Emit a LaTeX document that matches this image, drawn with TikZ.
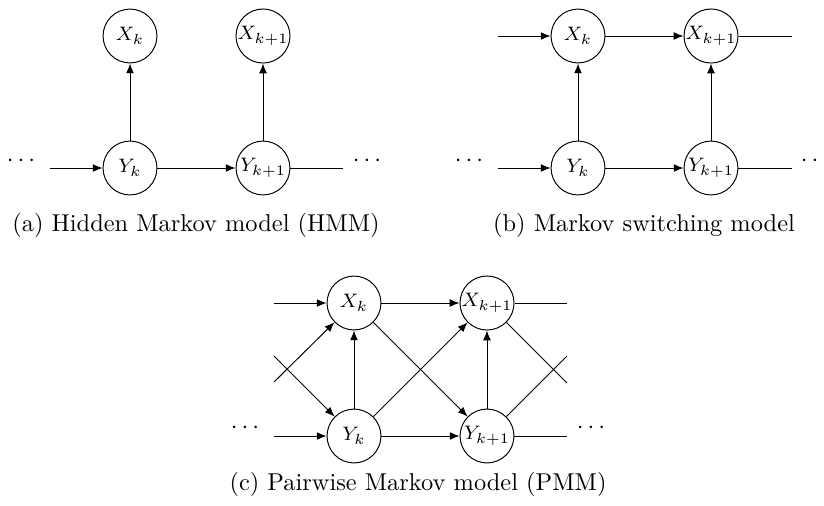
\documentclass[tikz,border=0pt]{standalone}
\usetikzlibrary{arrows.meta}
\begin{document}
\begin{tikzpicture}[x=0.41pt,y=-0.41pt,line width=0.4pt,
  state/.style={circle,draw,minimum size=22.1pt,inner sep=0pt,font=\fontsize{8}{9}\selectfont},
  arr/.style={-{Latex[length=4pt,width=3.2pt]}},
  dotsnode/.style={inner sep=0pt},
  captext/.style={font=\normalsize}]
\useasboundingbox (0,0) rectangle (824,505);

% (a) hidden Markov model
\node[state] (aX1) at (130,36) {$X_k$};
\node[state] (aX2) at (263,36) {$X_{k+1}$};
\node[state] (aY1) at (130,168) {$Y_k$};
\node[state] (aY2) at (263,168) {$Y_{k+1}$};
\coordinate (aIn) at (50,168);
\coordinate (aOut) at (343,168);
\node[dotsnode] (aDL) at (21,161) {$\cdots$};
\node[dotsnode] (aDR) at (367,161) {$\cdots$};
\draw[arr] (aIn) -- (aY1);
\draw[arr] (aY1) -- (aY2);
\draw (aY2) -- (aOut);
\draw[arr] (aY1) -- (aX1);
\draw[arr] (aY2) -- (aX2);
\node[captext] (aCap) at (196,225) {(a) Hidden Markov model (HMM)};

% (b) Markov switching model
\node[state] (bX1) at (578,36) {$X_k$};
\node[state] (bX2) at (711,36) {$X_{k+1}$};
\node[state] (bY1) at (578,168) {$Y_k$};
\node[state] (bY2) at (711,168) {$Y_{k+1}$};
\coordinate (bXIn) at (498,36);
\coordinate (bYIn) at (498,168);
\coordinate (bXOut) at (792,36);
\coordinate (bYOut) at (792,168);
\node[dotsnode] (bDL) at (469,161) {$\cdots$};
\node[dotsnode] (bDR) at (815,161) {$\cdots$};
\draw[arr] (bXIn) -- (bX1);
\draw[arr] (bX1) -- (bX2);
\draw (bX2) -- (bXOut);
\draw[arr] (bYIn) -- (bY1);
\draw[arr] (bY1) -- (bY2);
\draw (bY2) -- (bYOut);
\draw[arr] (bY1) -- (bX1);
\draw[arr] (bY2) -- (bX2);
\node[captext] (bCap) at (644,225) {(b) Markov switching model};

% (c) pairwise Markov model
\node[state] (cX1) at (354,303) {$X_k$};
\node[state] (cX2) at (487,303) {$X_{k+1}$};
\node[state] (cY1) at (354,436) {$Y_k$};
\node[state] (cY2) at (487,436) {$Y_{k+1}$};
\coordinate (cXIn) at (274,303);
\coordinate (cYIn) at (274,436);
\coordinate (cXOut) at (567,303);
\coordinate (cYOut) at (567,436);
\coordinate (cLa) at (274,382);
\coordinate (cLb) at (274,356);
\coordinate (cRa) at (567,383);
\coordinate (cRb) at (567,356);
\node[dotsnode] (cDL) at (245,428) {$\cdots$};
\node[dotsnode] (cDR) at (591,428) {$\cdots$};
\draw[arr] (cXIn) -- (cX1);
\draw[arr] (cX1) -- (cX2);
\draw (cX2) -- (cXOut);
\draw[arr] (cYIn) -- (cY1);
\draw[arr] (cY1) -- (cY2);
\draw (cY2) -- (cYOut);
\draw[arr] (cY1) -- (cX1);
\draw[arr] (cY2) -- (cX2);
\draw[arr] (cLa) -- (cX1);
\draw[arr] (cLb) -- (cY1);
\draw[arr] (cX1) -- (cY2);
\draw[arr] (cY1) -- (cX2);
\draw (cX2) -- (cRa);
\draw (cY2) -- (cRb);
\node[captext] (cCap) at (418,484) {(c) Pairwise Markov model (PMM)};
\end{tikzpicture}
\end{document}
